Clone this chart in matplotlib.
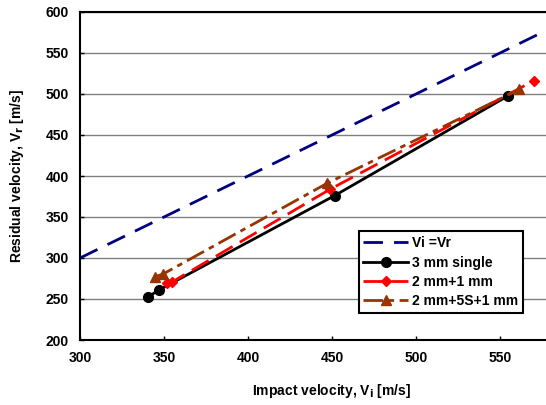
import matplotlib
matplotlib.use("Agg")
import matplotlib.pyplot as plt
import numpy as np

plt.rcParams['font.family'] = ['Liberation Sans', 'DejaVu Sans']
plt.rcParams['font.weight'] = 'bold'

# Reference line Vi = Vr
ref_x = [300, 600]
ref_y = [300, 600]

# 3 mm single plate
single_vi = [340.5, 347, 451.5, 555]
single_vr = [252.5, 261, 376, 498]

# 2 mm + 1 mm
two_one_vi = [352, 355, 449, 570]
two_one_vr = [269.5, 271, 384, 516]

# 2 mm + 5S + 1 mm
spaced_vi = [344.5, 349.5, 447, 561.5]
spaced_vr = [277, 280.5, 391, 505.5]

x_ticks = [300, 350, 400, 450, 500, 550]
y_ticks = [200, 250, 300, 350, 400, 450, 500, 550, 600]

W, H = 546, 405
fig = plt.figure(figsize=(W / 100, H / 100), dpi=100)
left, right, top, bottom = 80, 584, 12, 340
ax = fig.add_axes([left / W, 1 - bottom / H, (right - left) / W, (bottom - top) / H])

ax.plot(ref_x, ref_y, color='#000080', lw=2, dashes=(7, 4), label='Vi =Vr')
ax.plot(single_vi, single_vr, color='black', lw=2, marker='o', ms=7,
        label='3 mm single')
ax.plot(two_one_vi, two_one_vr, color='#FF0000', lw=2, dashes=(7, 3), marker='D', ms=5,
        label='2 mm+1 mm')
ax.plot(spaced_vi, spaced_vr, color='#993300', lw=2, dashes=(7, 2, 2, 2), marker='^', ms=7,
        label='2 mm+5S+1 mm')

ax.set_xlim(300, 600)
ax.set_ylim(200, 600)
ax.set_xticks(x_ticks)
ax.set_yticks(y_ticks)
ax.yaxis.grid(True, color='#808080', lw=1)
ax.set_axisbelow(True)
ax.tick_params(direction='in', length=3, width=1, labelsize=10, pad=8)
for lab in ax.get_xticklabels() + ax.get_yticklabels():
    lab.set_fontweight('bold')
for s in ax.spines.values():
    s.set_linewidth(1.5)

ax.set_xlabel('Impact velocity, V$_\\mathbf{i}$ [m/s]', fontsize=10, fontweight='bold', labelpad=12)
ax.set_ylabel('Residual velocity, V$_\\mathbf{r}$ [m/s]', fontsize=10, fontweight='bold', labelpad=14)

leg = ax.legend(loc='lower right', bbox_to_anchor=(523 / W, 1 - 313 / H),
                bbox_transform=fig.transFigure, fontsize=10, frameon=True,
                fancybox=False, edgecolor='black', framealpha=1,
                handlelength=3.2, borderpad=0.35, labelspacing=0.38, handletextpad=0.3,
                borderaxespad=0)
leg.get_frame().set_linewidth(1.5)
for t in leg.get_texts():
    t.set_fontweight('bold')

fig.savefig('out.png', dpi=100)
